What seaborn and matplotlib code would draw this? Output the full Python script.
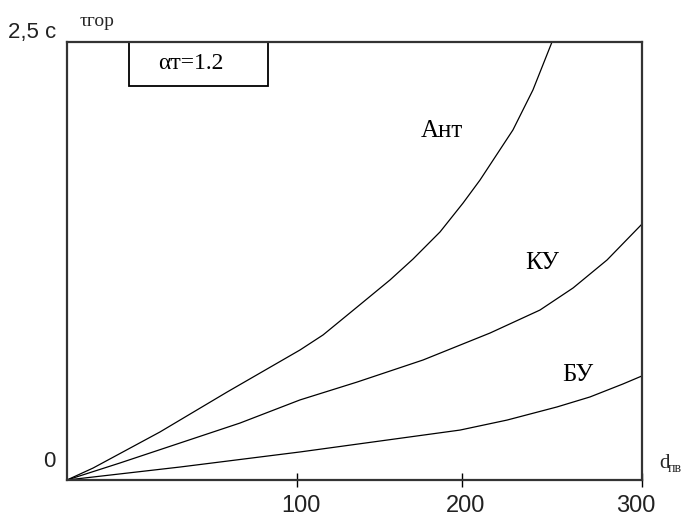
import numpy as np
import pandas as pd
import matplotlib
matplotlib.use("Agg")
import matplotlib.pyplot as plt
from matplotlib.patches import Rectangle
from matplotlib.transforms import ScaledTranslation
import seaborn as sns

# Breakpoints of the uneven diameter axis (value -> relative screen length)
axis_values = [0, 100, 200, 300]
axis_lengths = [0, 230, 395, 575]

# Curves: diameter d and time tau (s)
d_ant = [0, 11.3, 40.4, 69.6, 101.8, 115.8, 136.4, 156.4, 170.3, 186.7, 200.6, 210.0, 228.3, 239.4, 250]
tau_ant = [0, 0.068, 0.274, 0.502, 0.742, 0.828, 0.987, 1.142, 1.261, 1.416, 1.581, 1.712, 1.998, 2.226, 2.5]

d_ku = [0, 23.0, 49.1, 75.2, 101.8, 136.4, 176.4, 215.6, 243.3, 261.7, 280.6, 300]
tau_ku = [0, 0.097, 0.211, 0.325, 0.457, 0.559, 0.685, 0.839, 0.970, 1.096, 1.256, 1.461]

d_bu = [0, 49.1, 101.8, 198.8, 225.0, 252.8, 271.1, 289.4, 300]
tau_bu = [0, 0.074, 0.160, 0.285, 0.342, 0.417, 0.474, 0.548, 0.594]

curve_names = ["Ант", "КУ", "БУ"]
x_ticks = [100, 200, 300]
y_ticks = [0, 2.5]
y_tick_labels = ["0", "2,5 с"]

df = pd.concat([
    pd.DataFrame({"d": d_ant, "tau": tau_ant, "curve": "Ант"}),
    pd.DataFrame({"d": d_ku, "tau": tau_ku, "curve": "КУ"}),
    pd.DataFrame({"d": d_bu, "tau": tau_bu, "curve": "БУ"}),
], ignore_index=True)

sns.set_theme(style="white")
plt.rcParams["font.family"] = ["Liberation Sans", "DejaVu Sans"]

fig = plt.figure(figsize=(6.87, 5.19), dpi=100)
ax = fig.add_axes([67 / 687, 1 - 480 / 519, 575 / 687, 438 / 519])

def fwd(x):
    return np.interp(x, axis_values, axis_lengths)

def inv(x):
    return np.interp(x, axis_lengths, axis_values)

ax.set_xscale("function", functions=(fwd, inv))

sns.lineplot(data=df, x="d", y="tau", hue="curve", palette={n: "black" for n in curve_names},
             linewidth=0.9, legend=False, ax=ax, sort=False, estimator=None)

ax.set_xlim(0, 300)
ax.set_ylim(0, 2.5)
ax.set_xlabel("")
ax.set_ylabel("")

for s in ax.spines.values():
    s.set_visible(True)
    s.set_color("#333333")
    s.set_linewidth(1.6)

ax.set_xticks(x_ticks)
ax.set_xticklabels([str(v) for v in x_ticks])
ax.tick_params(axis="x", direction="inout", length=10, width=1.0, color="black",
               labelsize=17, pad=6, bottom=True, labelcolor="#222222")
x_shift = [4, 4, -6]
for lab, dx in zip(ax.get_xticklabels(), x_shift):
    lab.set_transform(lab.get_transform() + ScaledTranslation(dx / 100, 0, fig.dpi_scale_trans))

ax.set_yticks(y_ticks)
ax.set_yticklabels(y_tick_labels)
ax.tick_params(axis="y", length=0, labelsize=16, pad=8, left=True, labelcolor="#222222")
y_shift = [21, 12]
for lab, dy in zip(ax.get_yticklabels(), y_shift):
    lab.set_transform(lab.get_transform() + ScaledTranslation(0, dy / 100, fig.dpi_scale_trans))

serif = ["Liberation Serif", "DejaVu Serif"]

# Curve labels
label_pos = {"Ант": (187.7, 1.99), "КУ": (244.3, 1.24), "БУ": (264.2, 0.60)}
for name in curve_names:
    x, y = label_pos[name]
    ax.text(x, y, name, family=serif, fontsize=18, ha="center", va="center", color="black")

# Parameter box at the top
ax.add_patch(Rectangle((0.108, 0.9), 0.242, 0.1, transform=ax.transAxes,
                       fill=False, edgecolor="black", linewidth=1.3, clip_on=False))
ax.text(0.216, 0.95, "αт=1.2", transform=ax.transAxes, family=serif, fontsize=17,
        ha="center", va="center", color="black")

# Axis names
fig.text(80 / 687, 1 - 21 / 519, "τгор", family=serif, fontsize=14, ha="left", va="center")
fig.text(659 / 687, 1 - 464 / 519, "d", family=serif, fontsize=15, ha="left", va="center")
fig.text(668 / 687, 1 - 468 / 519, "пв", family=serif, fontsize=10, ha="left", va="center")

fig.savefig("out.png", dpi=100, facecolor="white")
